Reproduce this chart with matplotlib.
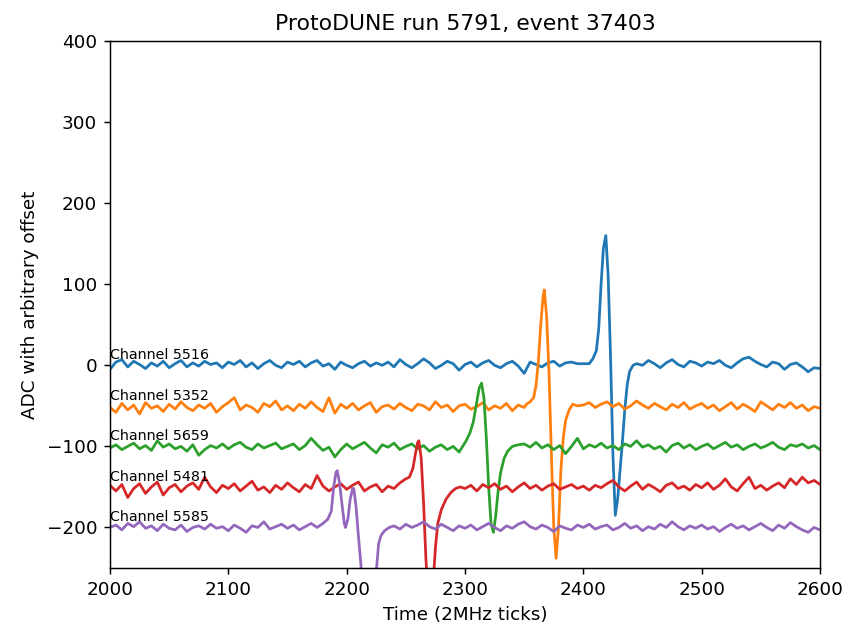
import numpy as np
import matplotlib
matplotlib.use("Agg")
import matplotlib.pyplot as plt

# baseline samples every 5 ticks, 2000..2600
ticks = np.arange(2000, 2601, 5)

channels = ["Channel 5516", "Channel 5352", "Channel 5659", "Channel 5481", "Channel 5585"]
offsets = [0, -50, -100, -150, -200]

blue_base = [
    -5, 4, 7, -2, 5, 1, -4, 3, -1, 5, -3, 2, 6, -2, 3, -1, 5, 1, 3, -3,
    4, 1, 6, -2, 3, -4, 2, 6, 0, -3, 4, 1, 5, -2, 3, 6, -1, 2, -5, 4,
    0, -3, 2, 5, -1, 3, 0, 4, -2, 7, 1, -3, 2, 8, 3, -4, 0, 5, 2, -6,
    1, 4, -2, 3, 6, 0, -3, 2, 5, -1, -10, 4, 1, -2, 3, 5, -1, 3, 4, 2,
    2, 5, 10, 100, 150, -180, -100, -20, -2, 4, 0, 6, 2, -3, 3, 7, 1, -2, 5, 3,
    -1, 4, 2, 6, 0, -3, 3, 8, 10, 5, 1, -2, 4, 2, -5, 1, 3, -2, -8, -3,
    -4]
orange_base = [
    -52, -58, -47, -55, -49, -60, -46, -53, -50, -57, -48, -54, -45, -52, -56, -49, -53, -47, -58, -51,
    -46, -40, -55, -49, -52, -58, -47, -51, -44, -55, -50, -56, -48, -53, -45, -52, -57, -40, -59, -48,
    -53, -47, -55, -50, -46, -58, -51, -49, -54, -47, -52, -56, -48, -50, -55, -45, -52, -49, -57, -50,
    -48, -54, -51, -46, -55, -50, -53, -47, -56, -49, -52, -50, -54, -47, -51, -50, -50, -50, -50, -50,
    -49, -46, -52, -48, -45, -51, -47, -54, -50, -44, -49, -53, -47, -51, -55, -48, -52, -46, -54, -50,
    -47, -53, -49, -56, -51, -46, -54, -48, -52, -57, -45, -50, -55, -48, -52, -46, -53, -49, -56, -51,
    -53]
green_base = [
    -102, -98, -104, -100, -96, -103, -99, -105, -93, -101, -97, -103, -100, -106, -98, -111, -104, -99, -102, -97,
    -103, -98, -95, -101, -104, -97, -102, -99, -96, -103, -100, -97, -104, -99, -90, -98, -105, -101, -113, -104,
    -97, -103, -99, -95, -102, -108, -98, -101, -96, -104, -100, -97, -103, -99, -106, -101, -98, -104, -100, -107,
    -100, -100, -100, -100, -100, -100, -100, -100, -100, -100, -97, -101, -95, -102, -98, -104, -99, -109, -100, -90,
    -103, -98, -101, -96, -102, -99, -104, -97, -100, -93, -101, -98, -103, -100, -107, -99, -96, -102, -98, -104,
    -100, -97, -103, -99, -95, -101, -98, -104, -100, -97, -102, -99, -95, -101, -104, -98, -100, -97, -102, -99,
    -104]
red_base = [
    -148, -155, -147, -163, -152, -146, -158, -150, -144, -160, -151, -147, -156, -149, -145, -153, -138, -150, -157, -148,
    -152, -146, -155, -149, -143, -154, -150, -157, -148, -153, -145, -151, -156, -147, -152, -136, -149, -155, -150, -146,
    -153, -148, -144, -155, -150, -147, -156, -149, -152, -145, -150, -150, -150, -150, -150, -150, -150, -150, -150, -150,
    -152, -148, -155, -147, -151, -146, -153, -149, -156, -150, -145, -152, -148, -154, -149, -146, -153, -150, -147, -152,
    -149, -154, -148, -151, -146, -142, -150, -155, -149, -144, -153, -147, -151, -156, -148, -145, -152, -149, -154, -147,
    -151, -145, -153, -148, -140, -150, -155, -146, -138, -152, -148, -154, -149, -145, -151, -140, -147, -138, -145, -142,
    -147]
purple_base = [
    -200, -197, -203, -195, -199, -193, -201, -198, -204, -196, -201, -203, -197, -205, -200, -198, -202, -196, -201, -199,
    -204, -197, -201, -206, -198, -200, -193, -202, -199, -196, -201, -197, -203, -199, -195, -200, -188, -200, -200, -200,
    -200, -200, -200, -200, -200, -200, -200, -200, -198, -202, -196, -200, -197, -193, -199, -202, -196, -200, -204, -198,
    -201, -197, -203, -199, -195, -200, -204, -198, -201, -196, -193, -199, -202, -197, -200, -205, -198, -201, -203, -197,
    -200, -196, -202, -199, -197, -203, -200, -195, -201, -198, -204, -199, -202, -196, -200, -193, -199, -203, -198, -201,
    -197, -202, -199, -205, -200, -196, -201, -198, -203, -199, -195, -200, -204, -197, -201, -194, -199, -203, -206, -200,
    -203]

# dense samples around the pulses
blue_pt = [2405, 2408, 2411, 2413, 2415, 2417, 2419, 2421, 2423, 2425, 2427, 2429, 2431, 2433, 2435, 2437, 2439, 2442, 2445]
blue_pv = [2, 8, 18, 45, 100, 145, 160, 110, 10, -110, -185, -165, -130, -95, -55, -25, -8, 0, 2]
orange_pt = [2352, 2355, 2358, 2360, 2362, 2364, 2366, 2367, 2369, 2371, 2373, 2375, 2377, 2379, 2381, 2383, 2385, 2388, 2391, 2395]
orange_pv = [-48, -45, -40, -25, 5, 50, 85, 93, 60, -10, -110, -200, -238, -200, -130, -90, -68, -55, -48, -50]
green_pt = [2295, 2298, 2301, 2304, 2307, 2310, 2312, 2314, 2316, 2318, 2320, 2322, 2324, 2326, 2328, 2330, 2333, 2336, 2340, 2345]
green_pv = [-107, -100, -93, -84, -70, -45, -28, -22, -40, -89, -150, -195, -206, -185, -155, -133, -115, -106, -100, -98]
red_pt = [2250, 2253, 2256, 2258, 2260, 2261, 2263, 2265, 2267, 2269, 2271, 2273, 2275, 2277, 2280, 2284, 2288, 2292, 2296]
red_pv = [-140, -138, -127, -110, -95, -93, -115, -170, -240, -285, -300, -270, -225, -195, -178, -165, -157, -152, -150]
purple_pt = [2180, 2184, 2187, 2189, 2191, 2192, 2194, 2196, 2198, 2199, 2201, 2203, 2205, 2206, 2208, 2210, 2212,
             2214, 2217, 2220, 2223, 2225, 2227, 2229, 2232, 2236]
purple_pv = [-195, -190, -180, -150, -132, -130, -145, -171, -195, -200, -190, -165, -152, -152, -175, -212, -245,
             -290, -330, -335, -300, -255, -220, -210, -204, -200]

bases = [blue_base, orange_base, green_base, red_base, purple_base]
pulses = [(blue_pt, blue_pv), (orange_pt, orange_pv), (green_pt, green_pv), (red_pt, red_pv), (purple_pt, purple_pv)]


def trace(base, pt, pv):
    base = np.array(base, dtype=float)
    pt = np.array(pt)
    keep = (ticks < pt[0]) | (ticks > pt[-1])
    t = np.concatenate([ticks[keep], pt])
    v = np.concatenate([base[keep], np.array(pv, dtype=float)])
    order = np.argsort(t)
    return t[order], v[order]


fig = plt.figure(figsize=(846 / 132, 630 / 132), dpi=132)
ax = fig.add_axes([110 / 846, 1 - 568 / 630, 710 / 846, 527 / 630])

for i in range(5):
    t, v = trace(bases[i], *pulses[i])
    ax.plot(t, v)
    ax.text(2000, offsets[i] + 4, channels[i], fontsize=7.8, va="bottom", ha="left")

ax.set_xlim(2000, 2600)
ax.set_ylim(-250, 400)
ax.set_xlabel("Time (2MHz ticks)")
ax.set_ylabel("ADC with arbitrary offset")
ax.set_title("ProtoDUNE run 5791, event 37403")

fig.savefig("out.png", dpi=132)
